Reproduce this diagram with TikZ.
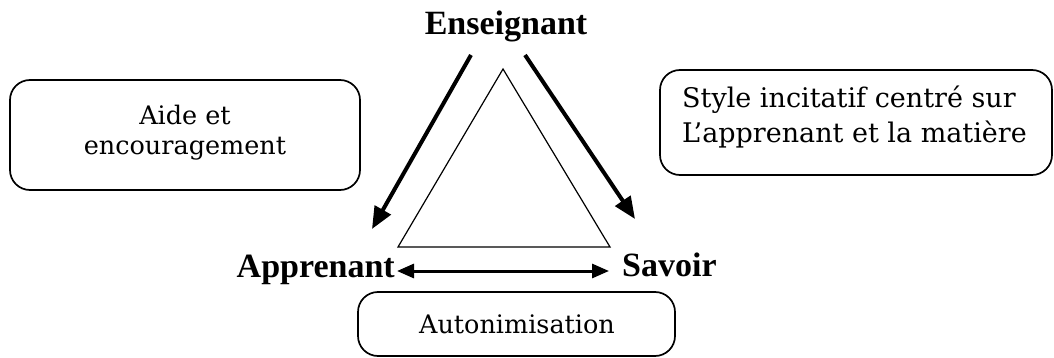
\documentclass[tikz,border=0pt]{standalone}
\usepackage{fontspec}
\setmainfont{Liberation Serif}
\newfontfamily\boxfont{DejaVu Serif}
\usetikzlibrary{arrows.meta}
\begin{document}
\begin{tikzpicture}[x=1pt,y=-1pt,
  lbl/.style={font=\fontsize{34}{40}\selectfont\bfseries, inner sep=0pt, anchor=base},
  rbox/.style={draw, line width=1.7pt, rounded corners=20pt, inner sep=0pt},
  boxtxt/.style={font=\boxfont\fontsize{25.5}{31}\selectfont, inner sep=0pt, anchor=base},
  boxtxtb/.style={font=\boxfont\fontsize{27}{35}\selectfont, inner sep=0pt, anchor=base west},
  bigarrow/.style={line width=4pt, -{Triangle[length=22pt,width=18pt]}},
  duoarrow/.style={line width=3pt, {Triangle[length=17pt,width=14pt]}-{Triangle[length=17pt,width=14pt]}},
  tri/.style={draw, line width=1.2pt, line join=miter},
]
\useasboundingbox (0,0) rectangle (1054,358);

% labels
\node[lbl] (ens) at (506,35) {Enseignant};
\node[lbl, anchor=base east] (app) at (395,277) {Apprenant};
\node[lbl, anchor=base west] (sav) at (622,276) {Savoir};

% triangle
\coordinate (ta) at (503,69);
\coordinate (tl) at (398,247);
\coordinate (tr) at (610,247);
\draw[tri] (ta) -- (tl) -- (tr) -- cycle;

% arrows
\coordinate (e1) at (471,55);
\coordinate (a1) at (372,229);
\coordinate (e2) at (525,55);
\coordinate (s1) at (635,219);
\draw[bigarrow] (e1) -- (a1);
\draw[bigarrow] (e2) -- (s1);
\coordinate (h1) at (397,271);
\coordinate (h2) at (609,271);
\draw[duoarrow] (h1) -- (h2);

% boxes
\node[rbox, minimum width=350pt, minimum height=110pt] (bl) at (185,135) {};
\node[boxtxt] (bl1) at (185,125) {Aide et};
\node[boxtxt] (bl2) at (185,155) {encouragement};

\node[rbox, minimum width=392pt, minimum height=105pt] (br) at (856,122.5) {};
\node[boxtxtb] (br1) at (682,108) {Style incitatif centré sur};
\node[boxtxtb] (br2) at (682,143) {L’apprenant et la matière};

\node[rbox, minimum width=317pt, minimum height=64pt] (bb) at (516.5,324) {};
\node[boxtxt] (bb1) at (517,333) {Autonimisation};
\end{tikzpicture}
\end{document}
